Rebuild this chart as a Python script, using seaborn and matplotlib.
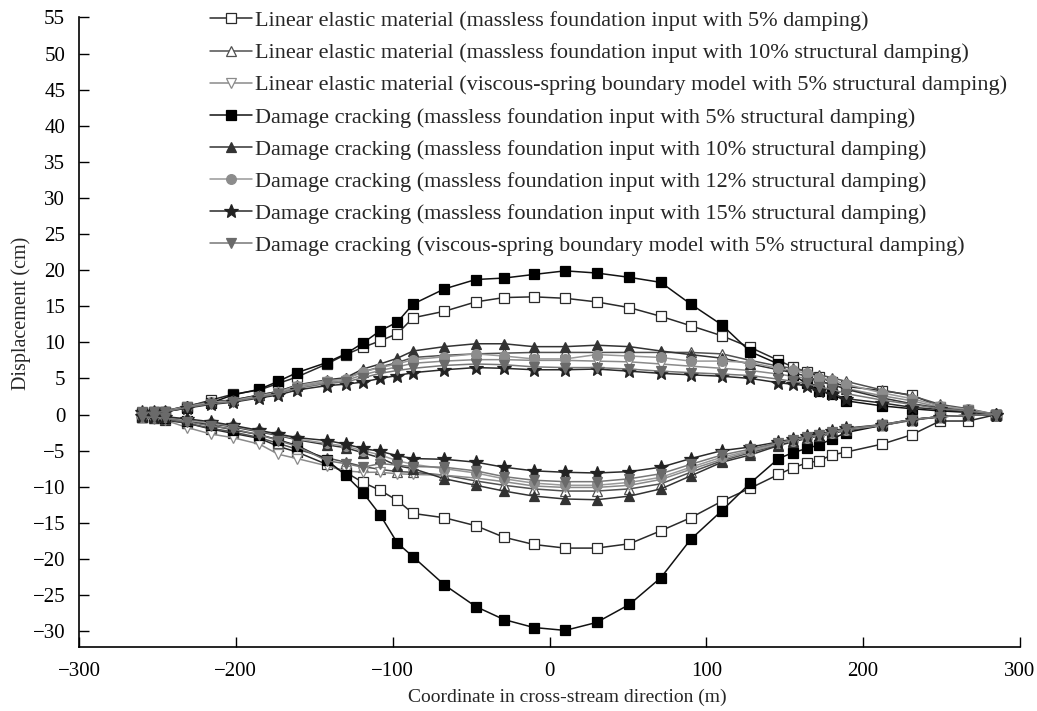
import matplotlib
matplotlib.use("Agg")
import matplotlib.pyplot as plt
import seaborn as sns
import numpy as np
import pandas as pd

sns.set_theme(style="white")
plt.rcParams['font.family'] = ['Liberation Serif', 'DejaVu Serif']

# ---------------- data ----------------
x_coord = [-260, -252, -245, -231, -216, -202, -185, -173, -161, -142, -130, -119, -108, -97, -87, -67, -47, -29, -10,
           10, 30, 51, 71, 90, 110, 128, 146, 155, 164, 172, 180, 189, 212, 231, 249, 267, 285]

labels = [
    "Linear elastic material (massless foundation input with 5% damping)",
    "Linear elastic material (massless foundation input with 10% structural damping)",
    "Linear elastic material (viscous-spring boundary model with 5% structural damping)",
    "Damage cracking (massless foundation input with 5% structural damping)",
    "Damage cracking (massless foundation input with 10% structural damping)",
    "Damage cracking (massless foundation input with 12% structural damping)",
    "Damage cracking (massless foundation input with 15% structural damping)",
    "Damage cracking (viscous-spring boundary model with 5% structural damping)",
]

le5_up = [0.2, 0.3, 0.4, 1.1, 2.0, 2.8, 3.4, 4.3, 5.2, 7.0, 8.3, 9.3, 10.2, 11.2, 13.4, 14.3, 15.6, 16.2, 16.3,
          16.1, 15.6, 14.8, 13.6, 12.3, 10.9, 9.3, 7.5, 6.6, 5.9, 5.2, 4.5, 3.9, 3.3, 2.7, 1.1, 0.6, 0.0]
le5_lo = [-0.3, -0.5, -0.8, -1.2, -2.0, -2.6, -3.3, -4.4, -5.2, -6.9, -8.0, -9.4, -10.5, -11.9, -13.7, -14.3, -15.4, -17.0, -18.0,
          -18.5, -18.5, -17.9, -16.1, -14.3, -12.0, -10.2, -8.3, -7.4, -6.7, -6.4, -5.6, -5.2, -4.1, -2.8, -0.9, -0.9, 0.0]

le10_up = [0.4, 0.4, 0.5, 1.2, 1.8, 2.0, 2.7, 3.2, 4.0, 4.7, 5.0, 5.9, 6.6, 7.2, 7.9, 8.2, 8.4, 8.5, 8.6,
           8.6, 8.6, 8.6, 8.6, 8.6, 8.4, 7.5, 6.7, 6.4, 6.0, 5.5, 5.1, 4.6, 3.4, 2.6, 1.4, 0.8, 0.0]
le10_lo = [-0.4, -0.5, -0.6, -1.2, -1.9, -2.4, -3.2, -4.0, -4.8, -6.0, -6.6, -7.2, -7.6, -7.9, -8.0, -8.4, -9.2, -9.8, -10.3,
           -10.6, -10.6, -10.3, -9.6, -8.0, -6.4, -5.3, -4.2, -3.7, -3.3, -3.0, -2.6, -2.2, -1.5, -0.8, -0.3, -0.1, 0.0]

levs_up = [0.3, 0.3, 0.4, 1.1, 1.6, 1.9, 2.5, 3.0, 3.8, 4.5, 4.7, 5.5, 6.1, 6.6, 7.1, 7.4, 7.6, 7.6, 7.5,
           7.5, 7.4, 7.3, 7.0, 6.7, 6.4, 6.1, 5.6, 5.3, 5.0, 4.5, 4.2, 3.6, 2.6, 1.9, 1.0, 0.6, 0.0]
levs_lo = [-0.4, -0.6, -0.8, -1.8, -2.7, -3.2, -4.1, -5.5, -6.1, -7.1, -7.8, -8.0, -8.0, -8.2, -8.3, -8.4, -8.8, -9.3, -9.9,
           -10.1, -10.1, -9.8, -9.0, -7.6, -6.2, -5.1, -4.1, -3.6, -3.2, -2.9, -2.5, -2.1, -1.5, -0.8, -0.3, -0.1, 0.0]

dc5_up = [0.2, 0.3, 0.4, 0.9, 1.6, 2.7, 3.5, 4.6, 5.8, 7.2, 8.4, 9.9, 11.6, 12.8, 15.3, 17.4, 18.7, 18.9, 19.4,
          19.9, 19.6, 19.0, 18.3, 15.3, 12.4, 8.7, 7.0, 5.5, 4.3, 3.3, 2.8, 1.9, 1.2, 0.8, 0.5, 0.3, 0.0]
dc5_lo = [-0.3, -0.4, -0.5, -0.9, -1.5, -2.1, -2.8, -3.5, -4.3, -6.3, -8.4, -10.8, -13.9, -17.8, -19.7, -23.6, -26.6, -28.4, -29.5,
          -29.9, -28.8, -26.3, -22.6, -17.3, -13.3, -9.5, -6.1, -5.3, -4.7, -4.2, -3.4, -2.5, -1.5, -0.7, -0.3, -0.1, 0.0]

dc10_up = [0.4, 0.4, 0.5, 1.2, 1.7, 2.0, 2.7, 3.2, 4.1, 4.8, 5.1, 6.3, 7.0, 7.8, 8.8, 9.4, 9.8, 9.8, 9.4,
           9.4, 9.6, 9.4, 8.8, 8.3, 7.8, 7.0, 6.2, 5.8, 5.3, 4.6, 4.2, 3.5, 2.3, 1.5, 0.9, 0.5, 0.0]
dc10_lo = [-0.3, -0.4, -0.4, -0.8, -1.3, -1.7, -2.4, -2.9, -3.5, -4.2, -4.6, -5.3, -6.0, -7.1, -7.5, -8.9, -9.8, -10.6, -11.3,
           -11.7, -11.8, -11.3, -10.3, -8.5, -6.6, -5.6, -4.3, -3.8, -3.3, -3.0, -2.6, -2.2, -1.5, -0.7, -0.3, -0.1, 0.0]

dc12_up = [0.4, 0.4, 0.5, 1.1, 1.7, 1.9, 2.6, 3.1, 4.0, 4.7, 4.9, 5.9, 6.5, 7.0, 7.6, 8.0, 8.4, 8.1, 7.7,
           7.7, 8.3, 8.1, 7.9, 7.4, 7.4, 7.2, 6.4, 6.1, 5.7, 5.1, 4.8, 4.2, 3.0, 2.2, 1.2, 0.7, 0.0]
dc12_lo = [-0.3, -0.4, -0.4, -0.8, -1.2, -1.6, -2.3, -2.8, -3.4, -4.0, -4.4, -5.0, -5.6, -6.4, -6.9, -7.5, -8.1, -8.9, -9.5,
           -9.8, -9.8, -9.4, -8.7, -7.3, -5.9, -5.0, -4.0, -3.6, -3.2, -2.9, -2.5, -2.1, -1.5, -0.7, -0.3, -0.1, 0.0]

dc15_up = [0.3, 0.3, 0.4, 0.9, 1.4, 1.7, 2.3, 2.7, 3.4, 4.0, 4.2, 4.5, 5.0, 5.4, 5.8, 6.2, 6.5, 6.4, 6.2,
           6.2, 6.3, 6.0, 5.7, 5.5, 5.3, 5.0, 4.4, 4.2, 4.0, 3.3, 2.9, 2.2, 1.6, 1.0, 0.7, 0.4, 0.0]
dc15_lo = [-0.2, -0.3, -0.3, -0.6, -1.0, -1.5, -2.2, -2.7, -3.2, -3.6, -4.1, -4.7, -5.1, -5.7, -6.1, -6.2, -6.6, -7.3, -7.8,
           -8.0, -8.1, -7.9, -7.3, -6.1, -5.0, -4.5, -3.8, -3.4, -3.0, -2.7, -2.3, -1.9, -1.4, -0.7, -0.3, -0.1, 0.0]

dcvs_up = [0.3, 0.3, 0.4, 1.0, 1.5, 1.8, 2.4, 2.9, 3.6, 4.3, 4.5, 5.1, 5.7, 6.1, 6.4, 6.8, 7.0, 6.9, 6.6,
           6.5, 6.5, 6.3, 6.0, 5.8, 5.6, 5.4, 4.9, 4.6, 4.3, 3.8, 3.5, 2.9, 2.0, 1.4, 0.8, 0.5, 0.0]
dcvs_lo = [-0.3, -0.4, -0.5, -1.0, -1.6, -2.0, -2.8, -3.6, -4.4, -6.4, -6.8, -7.3, -6.8, -7.0, -7.2, -7.3, -7.8, -8.6, -9.1,
           -9.3, -9.3, -8.9, -8.2, -6.9, -5.6, -4.8, -3.9, -3.5, -3.1, -2.8, -2.4, -2.0, -1.4, -0.7, -0.3, -0.1, 0.0]

upper = [le5_up, le10_up, levs_up, dc5_up, dc10_up, dc12_up, dc15_up, dcvs_up]
lower = [le5_lo, le10_lo, levs_lo, dc5_lo, dc10_lo, dc12_lo, dc15_lo, dcvs_lo]

# ---------------- styles ----------------
styles = [
    dict(marker='s', color='#2a2a2a', mfc='white', mec='#2a2a2a', ms=6.5),
    dict(marker='^', color='#505050', mfc='white', mec='#505050', ms=7.5),
    dict(marker='v', color='#8a8a8a', mfc='white', mec='#8a8a8a', ms=7.5),
    dict(marker='s', color='#111111', mfc='#000000', mec='#000000', ms=6.5),
    dict(marker='^', color='#333333', mfc='#333333', mec='#333333', ms=7.5),
    dict(marker='o', color='#999999', mfc='#8c8c8c', mec='#8c8c8c', ms=7),
    dict(marker='*', color='#2a2a2a', mfc='#222222', mec='#222222', ms=10),
    dict(marker='v', color='#777777', mfc='#6a6a6a', mec='#6a6a6a', ms=7.5),
]

fig = plt.figure(figsize=(10.37, 7.11), dpi=100)
ax = fig.add_axes([0.0762, 0.090, 0.9074, 0.8855])

handles = []
for i in range(8):
    st = styles[i]
    for yv in (upper[i], lower[i]):
        df = pd.DataFrame({"x": x_coord, "y": yv})
        sns.lineplot(data=df, x="x", y="y", ax=ax, sort=False, estimator=None,
                     color=st['color'], linewidth=1.1, marker=st['marker'],
                     markersize=st['ms'], markerfacecolor=st['mfc'],
                     markeredgecolor=st['mec'], markeredgewidth=0.9, legend=False)
    handles.append(ax.lines[-1])

ax.set_xlim(-300, 300)
ax.set_ylim(-32.2, 55)
ax.set_xticks(np.arange(-300, 301, 100))
ax.set_yticks(np.arange(-30, 56, 5))
for s in ['top', 'right']:
    ax.spines[s].set_visible(False)
for s in ['left', 'bottom']:
    ax.spines[s].set_color('black')
    ax.spines[s].set_linewidth(1.2)
ax.tick_params(axis='both', direction='in', length=7, width=1.0, colors='black',
               labelsize=15, left=True, bottom=True)
ax.tick_params(axis='x', pad=11)
ax.tick_params(axis='y', pad=10)
ax.set_xlabel("Coordinate in cross-stream direction (m)", fontsize=14)
ax.set_ylabel("Displacement (cm)", fontsize=14.5)
ax.xaxis.set_label_coords(0.519, -0.066)
ax.yaxis.set_label_coords(-0.051, 0.53)

leg = ax.legend(handles, labels, loc='upper left', bbox_to_anchor=(0.2025, 0.985),
                bbox_transform=fig.transFigure, frameon=False, fontsize=16,
                handlelength=1.9, handletextpad=0.12, labelspacing=0.52,
                borderpad=0.0, borderaxespad=0.0)

fig.savefig("out.png", dpi=100)
